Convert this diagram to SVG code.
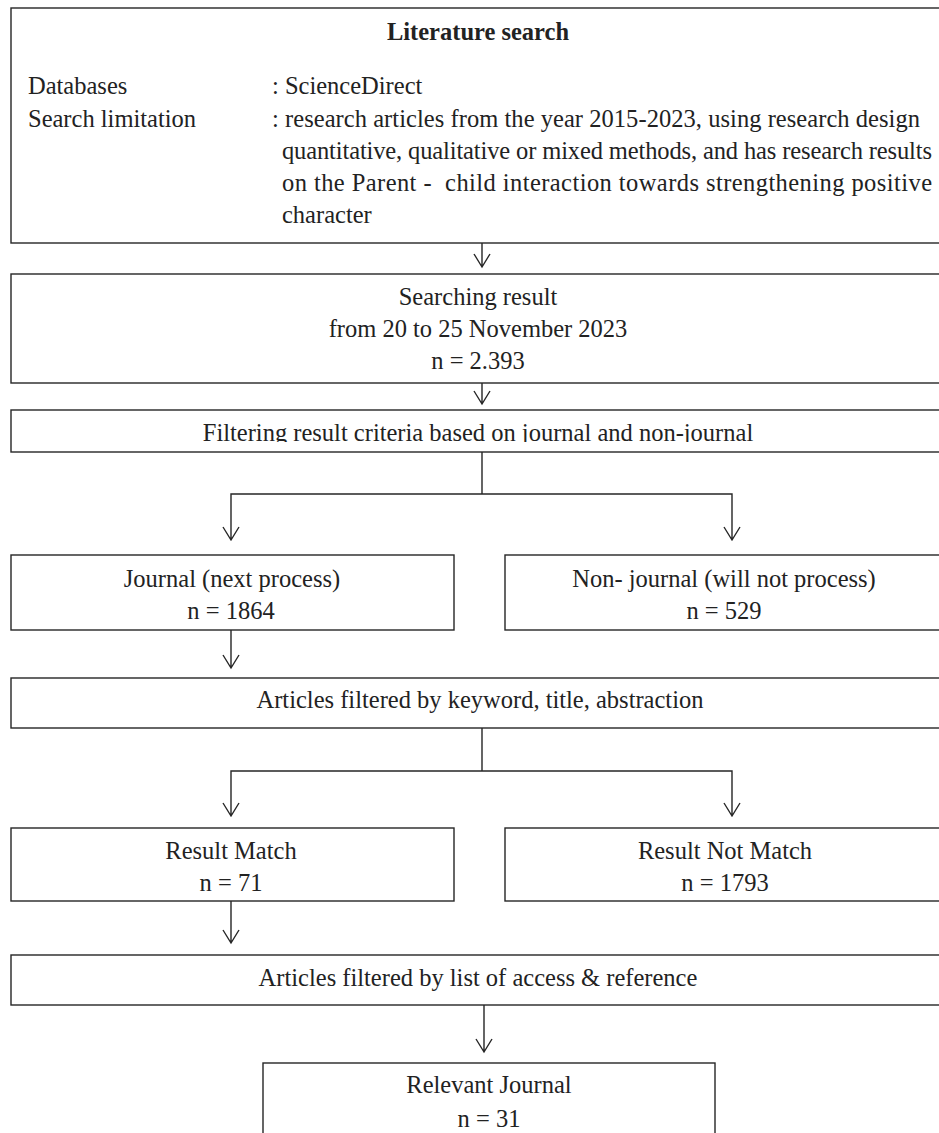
<svg xmlns="http://www.w3.org/2000/svg" width="939" height="1133" viewBox="0 0 939 1133">
<style>
.box{fill:#fff;stroke:#262626;stroke-width:1.4}
.t{font-family:"Liberation Serif","Times New Roman",serif;font-size:24.5px;fill:#222}
.c{text-anchor:middle}
.b{font-weight:bold}
.ln{fill:none;stroke:#262626;stroke-width:1.4}
</style>
<defs>
<clipPath id="clipFilter"><rect x="11" y="410" width="933" height="32"/></clipPath>
</defs>
<rect width="939" height="1133" fill="#fff"/>
<g id="connectors">
<path class="ln" d="M482 243V267M474 254L482 267L490 254"/>
<path class="ln" d="M482 383V404M474 391L482 404L490 391"/>
<path class="ln" d="M482 452V494M231 540V494H732V540M223 527L231 540L239 527M724 527L732 540L740 527"/>
<path class="ln" d="M231 630V668M223 655L231 668L239 655"/>
<path class="ln" d="M482 728V771M231 816V771H732V816M223 803L231 816L239 803M724 803L732 816L740 803"/>
<path class="ln" d="M231 901V943M223 930L231 943L239 930"/>
<path class="ln" d="M484 1005V1052M476 1039L484 1052L492 1039"/>
</g>
<g id="literature-search">
<rect class="box" x="11" y="8" width="934" height="235"/>
<text class="t b c" x="478" y="40">Literature search</text>
<text class="t" x="28" y="94">Databases</text>
<text class="t" x="272" y="94">: ScienceDirect</text>
<text class="t" x="28" y="127">Search limitation</text>
<text class="t" x="272" y="127" textLength="648" lengthAdjust="spacing">: research articles from the year 2015-2023, using research design</text>
<text class="t" x="282" y="159" textLength="650" lengthAdjust="spacing">quantitative, qualitative or mixed methods, and has research results</text>
<text class="t" x="282" y="191" textLength="650" lengthAdjust="spacing" xml:space="preserve">on the Parent -  child interaction towards strengthening positive</text>
<text class="t" x="282" y="223">character</text>
</g>
<g id="searching-result">
<rect class="box" x="11" y="274" width="934" height="109"/>
<text class="t c" x="478" y="305">Searching result</text>
<text class="t c" x="478" y="337">from 20 to 25 November 2023</text>
<text class="t c" x="478" y="369">n = 2.393</text>
</g>
<g id="filtering">
<rect class="box" x="11" y="410" width="934" height="42"/>
<text class="t c" x="478" y="441" clip-path="url(#clipFilter)">Filtering result criteria based on journal and non-journal</text>
</g>
<g id="journal">
<rect class="box" x="11" y="555" width="443" height="75"/>
<text class="t c" x="232" y="587">Journal (next process)</text>
<text class="t c" x="231" y="619">n = 1864</text>
</g>
<g id="non-journal">
<rect class="box" x="505" y="555" width="440" height="75"/>
<text class="t c" x="724" y="587">Non- journal (will not process)</text>
<text class="t c" x="724" y="619">n = 529</text>
</g>
<g id="articles-keyword">
<rect class="box" x="11" y="678" width="934" height="50"/>
<text class="t c" x="480" y="708">Articles filtered by keyword, title, abstraction</text>
</g>
<g id="result-match">
<rect class="box" x="11" y="828" width="443" height="73"/>
<text class="t c" x="231" y="859">Result Match</text>
<text class="t c" x="231" y="891">n = 71</text>
</g>
<g id="result-not-match">
<rect class="box" x="505" y="828" width="440" height="73"/>
<text class="t c" x="725" y="859">Result Not Match</text>
<text class="t c" x="725" y="891">n = 1793</text>
</g>
<g id="articles-access">
<rect class="box" x="11" y="955" width="934" height="50"/>
<text class="t c" x="478" y="986">Articles filtered by list of access &amp; reference</text>
</g>
<g id="relevant-journal">
<rect class="box" x="263" y="1063" width="452" height="100"/>
<text class="t c" x="489" y="1093">Relevant Journal</text>
<text class="t c" x="489" y="1127">n = 31</text>
</g>
</svg>
